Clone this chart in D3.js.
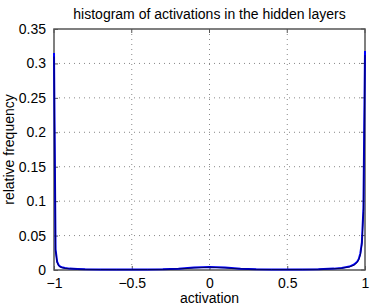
<!DOCTYPE html>
<html>
<head>
<meta charset="utf-8">
<script src="https://cdn.jsdelivr.net/npm/d3@7"></script>
<style>
  body { margin: 0; background: #fff; }
  text { font-family: "Liberation Sans", Arial, sans-serif; fill: #000; }
</style>
</head>
<body>
<div id="chart"></div>
<script>
// data
var activation = [-1, -0.99, -0.98, -0.97, -0.96, -0.95, -0.93, -0.9, -0.85, -0.8, -0.7, -0.6, -0.5,
  -0.4, -0.3, -0.2, -0.1, 0, 0.1, 0.2, 0.3, 0.4, 0.5, 0.6, 0.7, 0.8, 0.85, 0.9, 0.93, 0.95,
  0.96, 0.97, 0.98, 0.99, 1];
var freqBlue = [0.315, 0.03, 0.012, 0.007, 0.005, 0.004, 0.003, 0.002, 0.0015, 0.001, 0.0008, 0.0007, 0.0007,
  0.0008, 0.001, 0.0018, 0.0035, 0.0045, 0.0035, 0.0018, 0.001, 0.0008, 0.0008, 0.0009, 0.0012, 0.002, 0.003,
  0.005, 0.008, 0.012, 0.016, 0.024, 0.04, 0.09, 0.318];
var freqDark = [0.31, 0.028, 0.011, 0.006, 0.0045, 0.0035, 0.0025, 0.0018, 0.0013, 0.0009, 0.0007, 0.0006, 0.0006,
  0.0007, 0.0009, 0.0016, 0.003, 0.004, 0.003, 0.0016, 0.0009, 0.0007, 0.0007, 0.0008, 0.001, 0.0018, 0.0026,
  0.0045, 0.007, 0.011, 0.015, 0.022, 0.037, 0.085, 0.312];
var xTicks = [-1, -0.5, 0, 0.5, 1];
var yTicks = [0, 0.05, 0.1, 0.15, 0.2, 0.25, 0.3, 0.35];

var svgWidth = 374, svgHeight = 308;
var margin = { top: 29, right: 9, bottom: 38, left: 54 };
var width = svgWidth - margin.left - margin.right;
var height = svgHeight - margin.top - margin.bottom;

var svg = d3.select("#chart").append("svg")
  .attr("width", svgWidth)
  .attr("height", svgHeight);

var chartGroup = svg.append("g")
  .attr("transform", `translate(${margin.left}, ${margin.top})`);

var x = d3.scaleLinear().domain([-1, 1]).range([0, width]);
var y = d3.scaleLinear().domain([0, 0.35]).range([height, 0]);

var fmt = function(d) { return d3.format("")(d).replace("-", "\u2212"); };

// grid
chartGroup.selectAll(".vgrid").data(xTicks.slice(1, -1)).enter().append("line")
  .attr("x1", d => x(d)).attr("x2", d => x(d))
  .attr("y1", 0).attr("y2", height)
  .attr("stroke", "#888").attr("stroke-width", 1)
  .attr("stroke-dasharray", "1,4");
chartGroup.selectAll(".hgrid").data(yTicks.slice(1, -1)).enter().append("line")
  .attr("y1", d => y(d)).attr("y2", d => y(d))
  .attr("x1", 0).attr("x2", width)
  .attr("stroke", "#888").attr("stroke-width", 1)
  .attr("stroke-dasharray", "1,4");

// axes, ticks pointing inwards
var bottomAxis = d3.axisBottom(x).tickValues(xTicks).tickFormat(fmt).tickSizeInner(-4).tickSizeOuter(0).tickPadding(8);
var leftAxis = d3.axisLeft(y).tickValues(yTicks).tickFormat(fmt).tickSizeInner(-4).tickSizeOuter(0).tickPadding(8);

var xAxis = chartGroup.append("g").attr("transform", `translate(0, ${height})`).call(bottomAxis);
var yAxis = chartGroup.append("g").call(leftAxis);
[xAxis, yAxis].forEach(function(a) {
  a.select(".domain").remove();
  a.selectAll("line").attr("stroke", "#555");
  a.selectAll("text").style("font-size", "14px").attr("fill", "#000");
});
// top and right ticks
chartGroup.selectAll(".tt").data(xTicks).enter().append("line")
  .attr("x1", d => x(d)).attr("x2", d => x(d)).attr("y1", 0).attr("y2", 4).attr("stroke", "#555");
chartGroup.selectAll(".rt").data(yTicks).enter().append("line")
  .attr("y1", d => y(d)).attr("y2", d => y(d)).attr("x1", width).attr("x2", width - 4).attr("stroke", "#555");

// box
chartGroup.append("rect")
  .attr("x", 0).attr("y", 0).attr("width", width).attr("height", height)
  .attr("fill", "none").attr("stroke", "#555").attr("stroke-width", 1.5);

// curves
var line = d3.line().x(d => x(d[0])).y(d => y(d[1]));
chartGroup.append("path")
  .datum(d3.zip(activation, freqBlue))
  .attr("d", line)
  .attr("fill", "none").attr("stroke", "#0000ff").attr("stroke-width", 2);
chartGroup.append("path")
  .datum(d3.zip(activation, freqDark))
  .attr("d", line)
  .attr("fill", "none").attr("stroke", "#000060").attr("stroke-width", 1);

// labels
svg.append("text")
  .attr("x", margin.left + width / 2).attr("y", 19)
  .attr("text-anchor", "middle").style("font-size", "14px")
  .text("histogram of activations in the hidden layers");
svg.append("text")
  .attr("x", margin.left + width / 2).attr("y", 303)
  .attr("text-anchor", "middle").style("font-size", "14px")
  .text("activation");
svg.append("text")
  .attr("transform", `translate(14, ${margin.top + height / 2}) rotate(-90)`)
  .attr("text-anchor", "middle").style("font-size", "14px")
  .text("relative frequency");
</script>
</body>
</html>
